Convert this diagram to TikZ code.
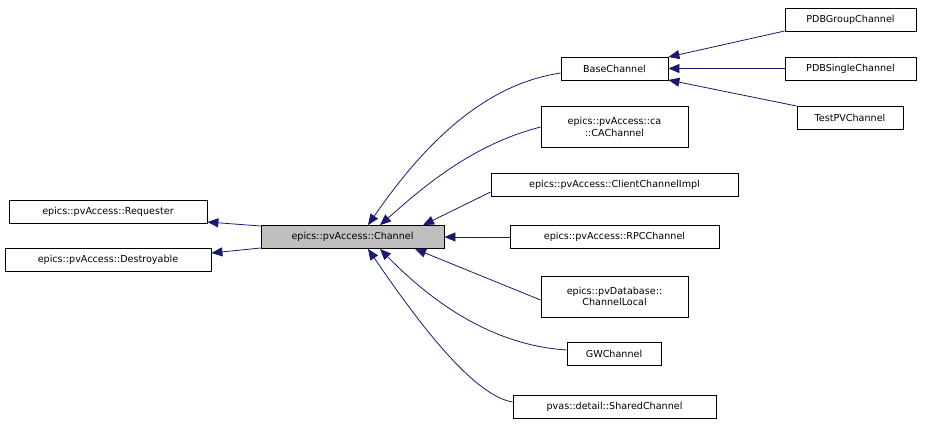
\documentclass[tikz,border=0pt]{standalone}
\usepackage{fontspec}
\setmainfont{DejaVu Sans}
\usetikzlibrary{arrows.meta}
\begin{document}
\begin{tikzpicture}[x=1pt,y=-1pt,
 box/.style={draw=black,fill=white,line width=0.8pt,inner sep=0pt,font=\fontsize{9.6}{11.5}\selectfont,align=center},
 e/.style={draw={rgb,255:red,25;green,25;blue,112},line width=0.8pt,-{Triangle[length=11pt,width=9pt]}},
 e2/.style={e,{Triangle[length=11pt,width=9pt]}-}]
\useasboundingbox (0,0) rectangle (932,424);
\node[box,minimum width=198pt,minimum height=23pt] (req) at (108,212) {epics::pvAccess::Requester};
\node[box,minimum width=206pt,minimum height=23pt] (des) at (108,259.5) {epics::pvAccess::Destroyable};
\node[box,fill={rgb,255:red,191;green,191;blue,191},minimum width=183pt,minimum height=23pt] (ch) at (352.5,237) {epics::pvAccess::Channel};
\node[box,minimum width=107pt,minimum height=23pt] (base) at (614.5,68.5) {BaseChannel};
\node[box,minimum width=147pt,minimum height=41pt] (ca) at (614.5,127) {epics::pvAccess::ca\\::CAChannel};
\node[box,minimum width=247pt,minimum height=23pt] (cli) at (614.5,185) {epics::pvAccess::ClientChannelImpl};
\node[box,minimum width=209pt,minimum height=23pt] (rpc) at (614.5,237) {epics::pvAccess::RPCChannel};
\node[box,minimum width=147pt,minimum height=41pt] (loc) at (614.5,296.5) {epics::pvDatabase::\\ChannelLocal};
\node[box,minimum width=94pt,minimum height=23pt] (gw) at (614,354) {GWChannel};
\node[box,minimum width=203pt,minimum height=23pt] (sh) at (614.5,406.5) {pvas::detail::SharedChannel};
\node[box,minimum width=131pt,minimum height=23pt] (pg) at (850.5,19.5) {PDBGroupChannel};
\node[box,minimum width=131pt,minimum height=23pt] (ps) at (850.5,68.5) {PDBSingleChannel};
\node[box,minimum width=106pt,minimum height=23pt] (tp) at (850,117.5) {TestPVChannel};
\draw[e] (ch.west|-0,226) -- (req.east|-0,222);
\draw[e] (ch.west|-0,248) -- (des.east|-0,253);
\draw[e] (base.west|-0,73) .. controls (480,85) and (420,150) .. (ch.north-|368,0);
\draw[e] (ca.west) .. controls (470,145) and (420,190) .. (ch.north-|380,0);
\draw[e] (cli.west|-0,192) -- (ch.north-|423,0);
\draw[e] (rpc.west) -- (ch.east);
\draw[e] (loc.west|-0,300) -- (ch.south-|415,0);
\draw[e] (gw.west|-0,350) .. controls (490,345) and (430,300) .. (ch.south-|380,0);
\draw[e] (sh.west|-0,402) .. controls (470,395) and (410,310) .. (ch.south-|368,0);
\draw[e] (pg.west|-0,31) -- (base.east|-0,57);
\draw[e] (ps.west) -- (base.east);
\draw[e] (tp.west|-0,106) -- (base.east|-0,80);
\end{tikzpicture}
\end{document}
